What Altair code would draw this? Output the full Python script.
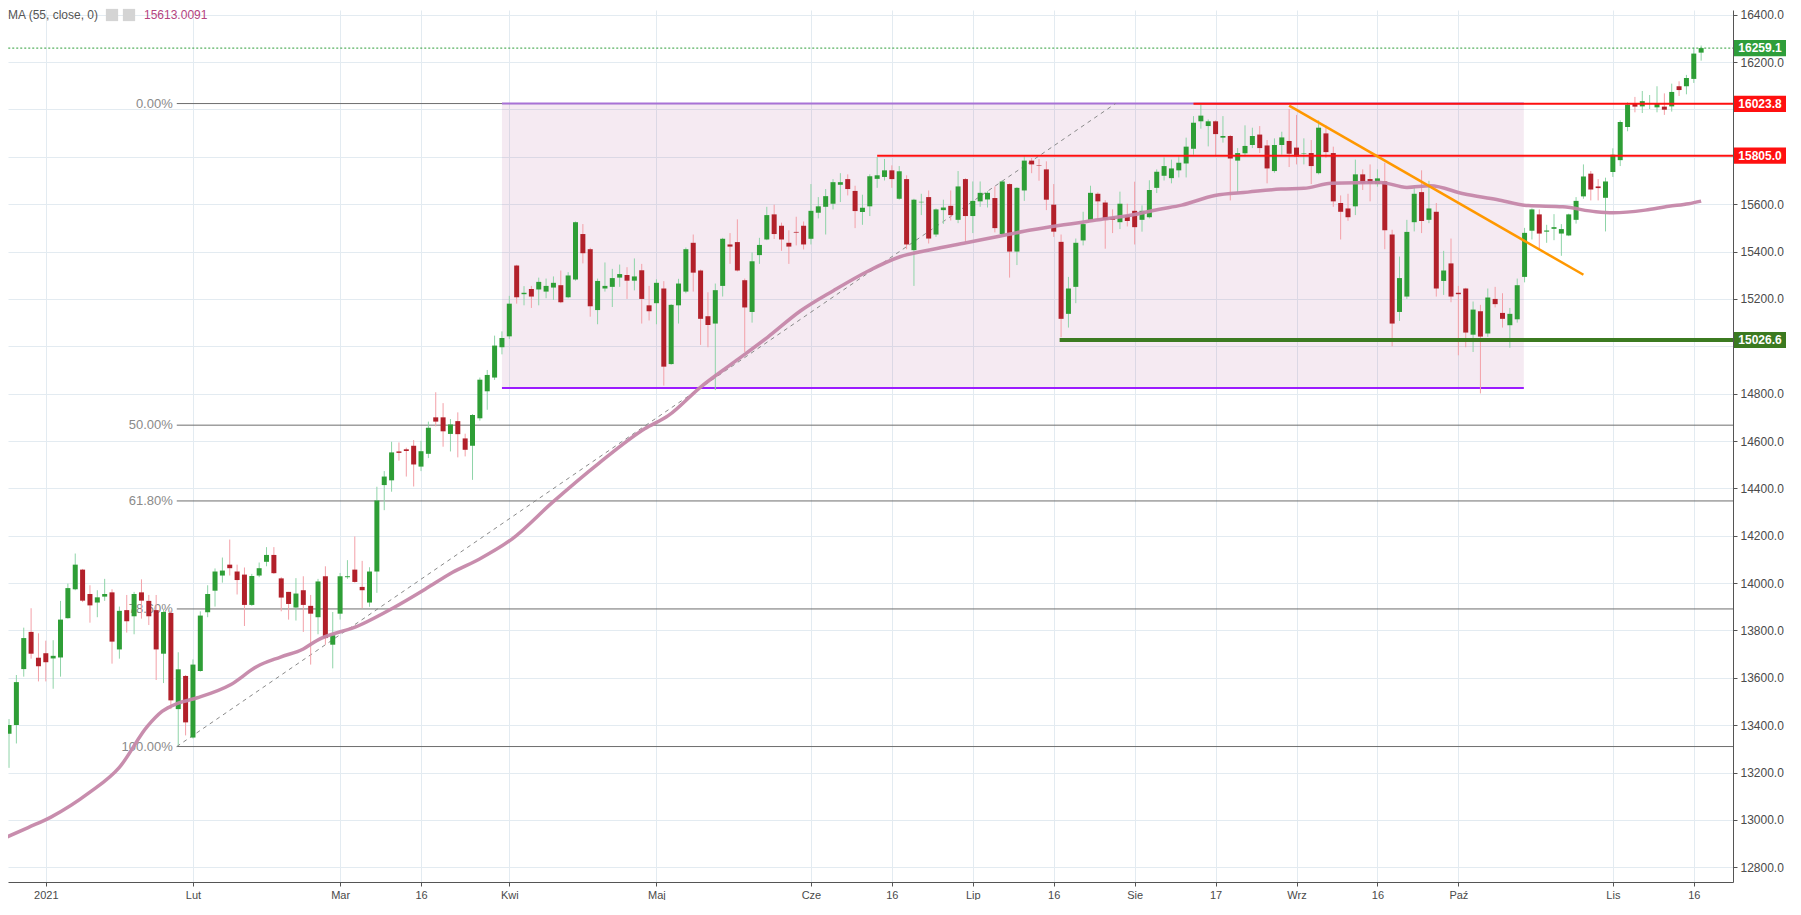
import altair as alt
import pandas as pd

# ---------------- data ----------------
first_bar = -5  # bar index of the first candle (0 = first session of 2021)

opens = [13364, 13401, 13637, 13794, 13685, 13704, 13682, 13686, 13852, 13974,
         14057, 13954, 13918, 13943, 13961, 13720, 13886, 13860, 13961, 13925,
         13886, 13702, 13874, 13468, 13608, 13348, 13629, 13877, 13968, 14032,
         14078, 14049, 14036, 13908, 14032, 14090, 14119, 14020, 13963, 13897,
         13970, 13904, 13856, 14029, 13740, 13871, 14025, 14057, 13984, 13918,
         14049, 14414, 14434, 14556, 14565, 14580, 14492, 14546, 14700, 14700,
         14630, 14684, 14611, 14580, 14696, 14810, 14868, 14996, 15042, 15341,
         15220, 15242, 15240, 15231, 15248, 15258, 15207, 15282, 15474, 15410,
         15153, 15244, 15251, 15290, 15301, 15277, 15321, 15173, 15182, 15244,
         14925, 15173, 15231, 15437, 15320, 15127, 15096, 15255, 15430, 15440,
         15279, 15145, 15385, 15451, 15557, 15509, 15437, 15483, 15509, 15454,
         15564, 15589, 15602, 15682, 15706, 15656, 15567, 15591, 15707, 15715,
         15743, 15623, 15706, 15406, 15608, 15630, 15472, 15575, 15593, 15534,
         15706, 15550, 15612, 15620, 15626, 15474, 15685, 15400, 15658, 15784,
         15764, 15747, 15598, 15441, 15137, 15251, 15447, 15534, 15644, 15607,
         15545, 15524, 15554, 15572, 15534, 15545, 15669, 15720, 15710, 15743,
         15772, 15834, 15950, 15930, 15950, 15881, 15888, 15784, 15815, 15850,
         15894, 15848, 15740, 15850, 15867, 15839, 15812, 15816, 15731, 15899,
         15816, 15605, 15582, 15591, 15726, 15706, 15685, 15696, 15472, 15145,
         15210, 15524, 15651, 15534, 15568, 15276, 15350, 15226, 15244, 15049,
         15148, 15054, 15200, 15141, 15089, 15114, 15293, 15488, 15557, 15484,
         15496, 15476, 15468, 15534, 15633, 15729, 15675, 15627, 15736, 15786,
         15926, 16023, 16013, 16024, 16009, 16012, 16013, 16098, 16098, 16129,
         16240]
highs = [13426, 13612, 13812, 13894, 13788, 13757, 13759, 13925, 13998, 14125,
         14060, 13991, 13970, 14018, 13974, 13901, 13950, 13963, 14016, 13950,
         13950, 13888, 13884, 13708, 13612, 13678, 13881, 13991, 14062, 14108,
         14184, 14078, 14066, 14039, 14087, 14152, 14152, 14025, 13963, 14021,
         14029, 13950, 14018, 14071, 13878, 14043, 14097, 14197, 14094, 14067,
         14407, 14473, 14597, 14594, 14572, 14604, 14601, 14682, 14806, 14760,
         14693, 14721, 14631, 14714, 14868, 14900, 15045, 15063, 15213, 15344,
         15254, 15255, 15290, 15286, 15295, 15320, 15313, 15527, 15516, 15416,
         15286, 15354, 15327, 15345, 15334, 15371, 15348, 15255, 15283, 15275,
         15178, 15285, 15417, 15472, 15324, 15228, 15265, 15458, 15478, 15536,
         15286, 15396, 15458, 15589, 15598, 15522, 15490, 15547, 15527, 15685,
         15630, 15664, 15706, 15731, 15726, 15678, 15640, 15726, 15799, 15791,
         15764, 15761, 15722, 15623, 15644, 15658, 15582, 15619, 15658, 15740,
         15710, 15696, 15696, 15655, 15675, 15702, 15688, 15672, 15802, 15795,
         15791, 15781, 15685, 15472, 15293, 15455, 15568, 15678, 15650, 15617,
         15578, 15653, 15602, 15695, 15595, 15701, 15747, 15798, 15788, 15802,
         15881, 15972, 16023, 15958, 15954, 15972, 15892, 15837, 15933, 15923,
         15930, 15871, 15878, 15906, 16002, 15977, 15878, 15871, 15954, 15933,
         15843, 15637, 15644, 15788, 15747, 15768, 15747, 15775, 15492, 15379,
         15534, 15671, 15743, 15699, 15605, 15403, 15455, 15255, 15247, 15189,
         15175, 15244, 15251, 15224, 15162, 15286, 15500, 15582, 15578, 15513,
         15558, 15516, 15560, 15630, 15768, 15740, 15706, 15712, 15836, 15954,
         16030, 16053, 16078, 16061, 16098, 16068, 16109, 16119, 16146, 16261,
         16270]
lows = [13220, 13323, 13605, 13681, 13585, 13585, 13554, 13605, 13850, 13970,
        13920, 13833, 13856, 13925, 13660, 13681, 13791, 13784, 13850, 13823,
        13591, 13578, 13468, 13316, 13357, 13344, 13626, 13856, 13901, 14002,
        14032, 13952, 13819, 13904, 14025, 14071, 14039, 13881, 13846, 13842,
        13794, 13656, 13784, 13740, 13640, 13846, 14018, 14002, 13894, 13900,
        13959, 14308, 14386, 14517, 14450, 14408, 14473, 14528, 14662, 14576,
        14556, 14531, 14535, 14436, 14686, 14732, 14858, 14966, 15031, 15180,
        15173, 15162, 15173, 15203, 15196, 15182, 15203, 15277, 15350, 15125,
        15093, 15231, 15166, 15251, 15200, 15236, 15096, 15109, 15093, 14834,
        14922, 15096, 15224, 15231, 15006, 14996, 14815, 15210, 15348, 15316,
        14976, 15100, 15348, 15448, 15453, 15403, 15348, 15426, 15409, 15430,
        15540, 15472, 15578, 15609, 15637, 15499, 15513, 15550, 15669, 15700,
        15669, 15619, 15410, 15255, 15554, 15434, 15462, 15517, 15531, 15520,
        15441, 15478, 15589, 15586, 15481, 15470, 15290, 15343, 15614, 15731,
        15699, 15575, 15462, 15038, 15079, 15182, 15426, 15531, 15534, 15412,
        15478, 15495, 15506, 15430, 15484, 15540, 15647, 15700, 15688, 15713,
        15713, 15809, 15919, 15844, 15802, 15860, 15616, 15651, 15802, 15837,
        15816, 15688, 15733, 15809, 15757, 15768, 15768, 15685, 15726, 15795,
        15589, 15451, 15530, 15554, 15660, 15612, 15674, 15410, 15000, 15107,
        15200, 15485, 15478, 15520, 15210, 15217, 15186, 14962, 14996, 14976,
        14801, 15040, 15164, 15079, 14994, 15100, 15270, 15451, 15407, 15437,
        15448, 15382, 15465, 15518, 15623, 15616, 15616, 15485, 15715, 15761,
        15908, 15988, 15985, 16002, 15988, 15977, 15991, 16057, 16064, 16112,
        16206]
closes = [13401, 13582, 13768, 13702, 13649, 13666, 13693, 13846, 13979, 14078,
          13926, 13906, 13940, 13954, 13753, 13883, 13839, 13954, 13926, 13860,
          13720, 13878, 13505, 13636, 13412, 13656, 13863, 13954, 14049, 14053,
          14063, 14013, 13908, 14030, 14063, 14119, 14042, 13939, 13912, 13956,
          13908, 13871, 14007, 13768, 13780, 14029, 14029, 14005, 13970, 14049,
          14349, 14450, 14552, 14550, 14558, 14501, 14557, 14656, 14682, 14641,
          14670, 14629, 14563, 14710, 14859, 14879, 15003, 15035, 15180, 15207,
          15226, 15210, 15272, 15255, 15268, 15186, 15299, 15524, 15393, 15169,
          15276, 15255, 15288, 15305, 15277, 15295, 15200, 15148, 15268, 14914,
          15175, 15265, 15410, 15311, 15116, 15090, 15237, 15454, 15421, 15320,
          15164, 15359, 15428, 15554, 15474, 15451, 15421, 15480, 15430, 15572,
          15591, 15634, 15693, 15693, 15664, 15571, 15585, 15718, 15722, 15743,
          15706, 15739, 15430, 15619, 15610, 15455, 15578, 15586, 15554, 15675,
          15550, 15614, 15648, 15648, 15499, 15696, 15400, 15669, 15784, 15768,
          15762, 15619, 15484, 15116, 15244, 15437, 15516, 15648, 15612, 15534,
          15534, 15602, 15529, 15503, 15572, 15660, 15737, 15761, 15751, 15775,
          15843, 15944, 15974, 15950, 15896, 15888, 15793, 15816, 15846, 15888,
          15837, 15751, 15850, 15882, 15813, 15802, 15814, 15761, 15923, 15820,
          15612, 15568, 15545, 15726, 15688, 15688, 15709, 15490, 15096, 15288,
          15483, 15644, 15529, 15582, 15244, 15320, 15210, 15220, 15058, 15155,
          15041, 15206, 15178, 15116, 15137, 15258, 15479, 15578, 15476, 15489,
          15503, 15495, 15557, 15614, 15717, 15662, 15668, 15696, 15809, 15947,
          16020, 16012, 16035, 16027, 16025, 15999, 16074, 16082, 16133, 16236,
          16259.1]

# MA(55): (bar index, value)
ma_bars = [-5.5, -2.4, 0.7, 5.9, 10.0, 13.8, 15.8, 17.9, 20.6, 25.1, 28.7, 31.9,
           35.0, 36.8, 42.5, 47.2, 51.7, 55.3, 58.9, 63.4, 68.9, 75.2, 81.4, 84.6,
           89.0, 93.6, 98.1, 102.6, 107.1, 111.6, 116.1, 120.6, 125.1, 129.6,
           134.1, 137.7, 143.1, 147.6, 151.2, 154.4, 158.9, 163.4, 167.9, 171.0,
           174.7, 181.4, 185.0, 188.2, 192.7, 197.2, 201.5, 206.2, 210.7, 213.0,
           217.4, 220.6, 223.3, 225.0]
ma_vals = [12925, 12968, 13012, 13115, 13222, 13395, 13458, 13492, 13516, 13571,
           13648, 13688, 13722, 13757, 13820, 13895, 13977, 14046, 14101, 14187,
           14342, 14507, 14652, 14707, 14828, 14934, 15038, 15150, 15236, 15315,
           15378, 15410, 15437, 15465, 15492, 15510, 15534, 15554, 15578, 15596,
           15637, 15651, 15664, 15667, 15688, 15692, 15671, 15678, 15644, 15620,
           15594, 15589, 15568, 15564, 15575, 15591, 15602, 15613]

# x axis labels (bar index -> label)
tick_bars = [0, 20, 40, 51, 63, 83, 104, 115, 126, 137, 148, 159, 170, 181, 192, 213, 224]
tick_labels = ["2021", "Lut", "Mar", "16", "Kwi", "Maj", "Cze", "16", "Lip", "16",
               "Sie", "17", "Wrz", "16", "Paź", "Lis", "16"]
price_ticks = [12800, 13000, 13200, 13400, 13600, 13800, 14000, 14200, 14400,
               14600, 14800, 15000, 15200, 15400, 15600, 15800, 16000, 16200, 16400]
hidden_ticks = [15000, 16000]  # tick labels covered by the price tags

# Fibonacci retracement
fib_labels = ["0.00%", "50.00%", "61.80%", "78.60%", "100.00%"]
fib_prices = [16025, 14667, 14347, 13891, 13310]
fib_start_bar = 17.8
fib_diag_bars = [17.8, 145.4]
fib_diag_prices = [13310, 16025]

# range box
box_bars = [62.0, 200.9]
box_prices = [14824, 16025]

# trend line (orange)
trend_bars = [169, 209]
trend_prices = [16016, 15302]

# horizontal levels
lvl_names = ["last", "r1", "r2", "s1"]
lvl_prices = [16259.1, 16023.8, 15805.0, 15026.6]
lvl_start = [-10, 156, 113, 137.8]
lvl_colors = ["#2e9e3a", "#ff1010", "#ff1010", "#3b7a20"]

ma_label = "MA (55, close, 0)"
ma_last = "15613.0091"

# ---------------- chart ----------------
W, H = 1725, 872
END = 245
xs = alt.Scale(domain=[-4.46, 228.65], nice=False, zero=False)
ys = alt.Scale(domain=[12738, 16420], nice=False, zero=False)

label_expr = "[" + ",".join("'%s'" % t for t in tick_labels) + "][indexof([" + \
    ",".join(str(b) for b in tick_bars) + "], datum.value)]"
ylabel_expr = "indexof([" + ",".join(str(v) for v in hidden_ticks) + \
    "], datum.value) >= 0 ? '' : format(datum.value, '.1f')"

FONT = "Liberation Sans"
xaxis = alt.Axis(values=tick_bars, labelExpr=label_expr, title=None, grid=True,
                 gridColor="#e3ebf1", domainColor="#555555", tickColor="#555555",
                 labelColor="#4a4a4a", labelFontSize=11, labelFont=FONT, tickSize=4,
                 labelPadding=3, labelFlush=False)
yaxis = alt.Axis(values=price_ticks, labelExpr=ylabel_expr, orient="right", title=None,
                 grid=True, gridColor="#e3ebf1", domainColor="#555555",
                 tickColor="#555555", labelColor="#4a4a4a", labelFontSize=12,
                 labelFont=FONT, tickSize=4, labelPadding=3)


def X(f):
    return alt.X(f + ":Q", scale=xs, axis=xaxis)


def Y(f):
    return alt.Y(f + ":Q", scale=ys, axis=yaxis)


n = len(opens)
candles = pd.DataFrame({
    "bar": list(range(first_bar, first_bar + n)),
    "open": opens, "high": highs, "low": lows, "close": closes,
})
ma_df = pd.DataFrame({"bar": ma_bars, "ma": ma_vals})
fib_df = pd.DataFrame({"label": fib_labels, "price": fib_prices,
                       "x1": [fib_start_bar] * 5, "x2": [END] * 5})
diag_df = pd.DataFrame({"bar": fib_diag_bars, "price": fib_diag_prices})
box_df = pd.DataFrame({"x1": [box_bars[0]], "x2": [box_bars[1]],
                       "y1": [box_prices[0]], "y2": [box_prices[1]]})
box_lines = pd.DataFrame({"x1": [box_bars[0]] * 2, "x2": [box_bars[1]] * 2,
                          "price": box_prices, "kind": ["low", "high"]})
trend_df = pd.DataFrame({"bar": trend_bars, "price": trend_prices})
lvl_df = pd.DataFrame({"name": lvl_names, "price": lvl_prices, "x1": lvl_start,
                       "x2": [END] * 4, "color": lvl_colors,
                       "text": ["%.1f" % p for p in lvl_prices]})

up_cond = "datum.close >= datum.open"

rect = alt.Chart(box_df).mark_rect(color="#a0307f", opacity=0.1, clip=True).encode(
    x=X("x1"), x2="x2", y=Y("y1"), y2="y2")

box_low = alt.Chart(box_lines).transform_filter("datum.kind == 'low'").mark_rule(
    color="#9b1cff", strokeWidth=2.2, clip=True).encode(x=X("x1"), x2="x2", y=Y("price"))
box_high = alt.Chart(box_lines).transform_filter("datum.kind == 'high'").mark_rule(
    color="#a872d6", strokeWidth=2, clip=True).encode(x=X("x1"), x2="x2", y=Y("price"))

fib_lines = alt.Chart(fib_df).mark_rule(color="#6e6e6e", strokeWidth=1, clip=True).encode(
    x=X("x1"), x2="x2", y=Y("price"))
fib_text = alt.Chart(fib_df).mark_text(align="right", baseline="middle", dx=-4,
                                        fontSize=13, font=FONT, color="#8a8a8a").encode(
    x=X("x1"), y=Y("price"), text="label:N")
diag = alt.Chart(diag_df).mark_line(color="#8a8a8a", strokeWidth=1, strokeDash=[4, 4],
                                   clip=True).encode(x=X("bar"), y=Y("price"))

wicks = alt.Chart(candles).mark_rule(strokeWidth=1, clip=True).encode(
    x=X("bar"), y=Y("low"), y2="high",
    color=alt.condition(up_cond, alt.value("#8fd4a8"), alt.value("#f3a0a8")))
bodies = alt.Chart(candles).mark_bar(size=5, clip=True).encode(
    x=X("bar"), y=Y("open"), y2="close",
    color=alt.condition(up_cond, alt.value("#2e9e36"), alt.value("#b2202a")))

ma_line = alt.Chart(ma_df).mark_line(color="#c587a9", strokeWidth=3.5, opacity=0.95,
                                     interpolate="monotone", clip=True).encode(
    x=X("bar"), y=Y("ma"))

lvl_last = alt.Chart(lvl_df).transform_filter("datum.name == 'last'").mark_rule(
    color="#2e9e3a", strokeWidth=1, strokeDash=[2, 2], clip=True).encode(
    x=X("x1"), x2="x2", y=Y("price"))
lvl_red = alt.Chart(lvl_df).transform_filter("datum.name == 'r1' || datum.name == 'r2'").mark_rule(
    color="#ff1010", strokeWidth=2, clip=True).encode(x=X("x1"), x2="x2", y=Y("price"))
lvl_sup = alt.Chart(lvl_df).transform_filter("datum.name == 's1'").mark_rule(
    color="#3b7a20", strokeWidth=4, clip=True).encode(x=X("x1"), x2="x2", y=Y("price"))
trend = alt.Chart(trend_df).mark_line(color="#ff9800", strokeWidth=2.5, clip=True).encode(
    x=X("bar"), y=Y("price"))

box_shape = "M-1,-0.31L1,-0.31L1,0.31L-1,0.31Z"
tag_boxes = alt.Chart(lvl_df).mark_point(shape=box_shape, size=52 * 52, filled=True,
                                         opacity=1, strokeWidth=0).encode(
    x=alt.value(W + 27), y=Y("price"), color=alt.Color("color:N", scale=None))
tag_text = alt.Chart(lvl_df).mark_text(color="white", fontWeight="bold", fontSize=12,
                                       font=FONT, align="center", baseline="middle").encode(
    x=alt.value(W + 27), y=Y("price"), text="text:N")

legend_df = pd.DataFrame({"a": [ma_label], "b": [ma_last]})
leg_ma = alt.Chart(legend_df).mark_text(align="left", baseline="middle", fontSize=12,
                                        font=FONT, color="#555555").encode(
    x=alt.value(0), y=alt.value(5), text="a:N")
leg_icon1 = alt.Chart(legend_df).mark_square(size=150, color="#d4d4d4", opacity=1).encode(
    x=alt.value(104), y=alt.value(5))
leg_icon2 = alt.Chart(legend_df).mark_square(size=150, color="#d4d4d4", opacity=1).encode(
    x=alt.value(121), y=alt.value(5))
leg_val = alt.Chart(legend_df).mark_text(align="left", baseline="middle", fontSize=12,
                                         font=FONT, color="#b5447f").encode(
    x=alt.value(136), y=alt.value(5), text="b:N")

chart = alt.layer(
    rect, fib_lines, fib_text, box_low, box_high, diag,
    wicks, bodies, ma_line,
    lvl_last, lvl_red, lvl_sup, trend,
    tag_boxes, tag_text, leg_ma, leg_icon1, leg_icon2, leg_val,
).properties(width=W, height=H, padding=0, background="white").configure_view(
    strokeWidth=0)

chart.save("out.html", embed_options={"renderer": "svg", "actions": False})
